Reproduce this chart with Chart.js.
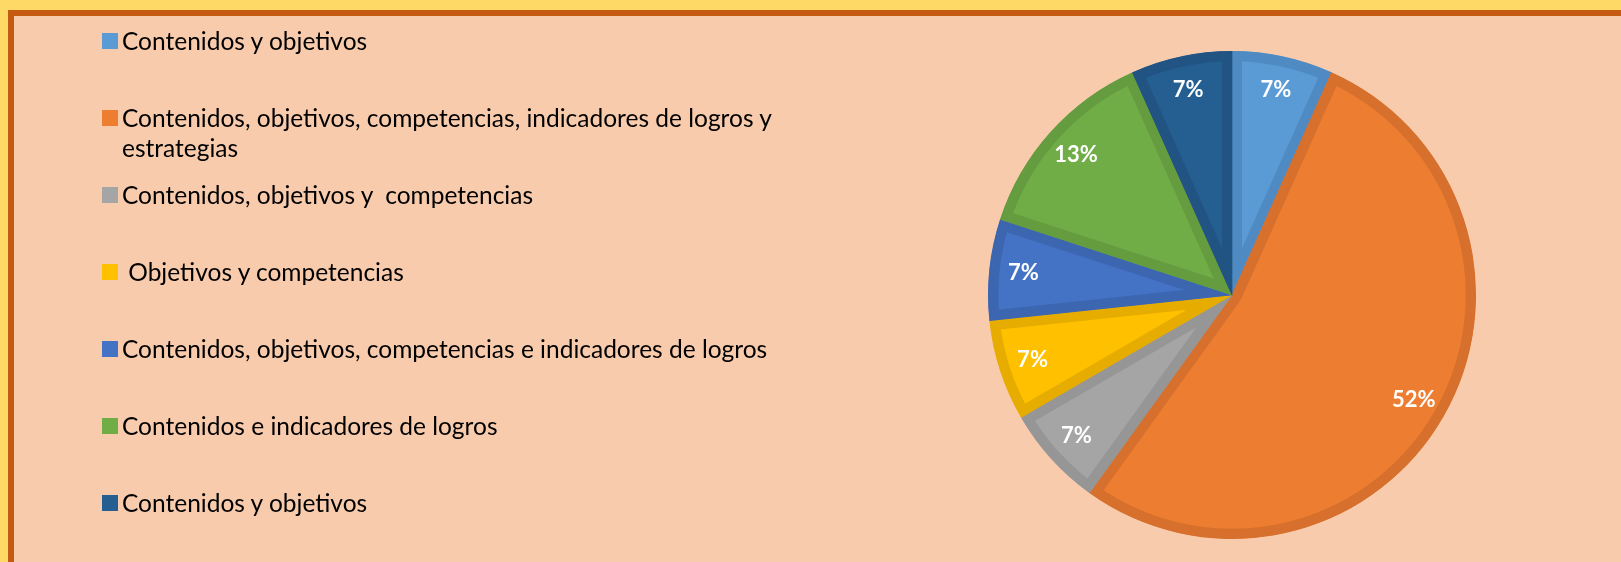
<!DOCTYPE html>
<html>
<head>
<meta charset="utf-8">
<script src="https://cdn.jsdelivr.net/npm/chart.js@4.4.0/dist/chart.umd.min.js"></script>
<style>
  html, body { margin: 0; padding: 0; }
  body { width: 1621px; height: 562px; background: #FFD966; overflow: hidden; position: relative; font-family: Lato, sans-serif; }
  #frame { position: absolute; left: 8px; top: 10px; right: 0; bottom: 0; background: #F8CBAD;
           border-left: 6px solid #C55A11; border-top: 6px solid #C55A11; }
  #pie-chart { position: absolute; left: 0; top: 0; }
  .item { position: absolute; left: 88px; display: flex; align-items: flex-start; font-size: 24.5px; color: #000; line-height: 30px; white-space: pre; }
  .box { width: 16px; height: 16px; margin-top: 7px; margin-right: 4px; flex: none; }
</style>
</head>
<body>
<div id="frame">
  <canvas id="pie-chart" width="1607" height="546"></canvas>
  <div id="legend"></div>
</div>
<script>
// categories (multi-line labels are arrays)
const categories = [
    "Contenidos y objetivos",
    ["Contenidos, objetivos, competencias, indicadores de logros y", "estrategias"],
    "Contenidos, objetivos y  competencias",
    " Objetivos y competencias",
    "Contenidos, objetivos, competencias e indicadores de logros",
    "Contenidos e indicadores de logros",
    "Contenidos y objetivos"
];
// share of each slice
const shares = [6.7, 53.3, 6.7, 6.7, 6.7, 13.3, 6.7];
// labels printed on the slices
const percentLabels = ["7%", "52%", "7%", "7%", "7%", "13%", "7%"];

const fillColors = ['#5B9BD5', '#ED7D31', '#A5A5A5', '#FFC000', '#4472C4', '#70AD47', '#255E91'];
const edgeColors = ['#4F8BC2', '#D6702C', '#969696', '#E6AD00', '#3D66B1', '#659C40', '#215483'];

const pie_chart = document.getElementById("pie-chart");

// html legend
const legend = document.getElementById("legend");
for (let i = 0; i < categories.length; i++) {
    let item = document.createElement("div");
    item.className = "item";
    item.style.top = (10 + i * 77) + "px";
    let box = document.createElement("div");
    box.className = "box";
    box.style.background = fillColors[i];
    let txt = document.createElement("div");
    let lab = categories[i];
    txt.textContent = Array.isArray(lab) ? lab.join("\n") : lab;
    item.appendChild(box);
    item.appendChild(txt);
    legend.appendChild(item);
}

const sliceLabels = {
    id: 'sliceLabels',
    afterDatasetsDraw(chart) {
        let ctx = chart.ctx;
        let arcs = chart.getDatasetMeta(0).data;
        ctx.save();
        ctx.font = 'bold 22px Lato';
        ctx.fillStyle = '#ffffff';
        ctx.textAlign = 'center';
        ctx.textBaseline = 'middle';
        for (let i = 0; i < arcs.length; i++) {
            let p = arcs[i].getProps(['x', 'y', 'startAngle', 'endAngle', 'outerRadius'], true);
            let mid = (p.startAngle + p.endAngle) / 2;
            let r = p.outerRadius * 0.86;
            ctx.fillText(percentLabels[i], p.x + Math.cos(mid) * r, p.y + Math.sin(mid) * r);
        }
        ctx.restore();
    }
};

let myChart = new Chart(pie_chart, {
    type: 'pie',
    data: {
        labels: categories,
        datasets: [{
            data: shares,
            backgroundColor: fillColors,
            borderColor: edgeColors,
            borderWidth: 10,
            borderAlign: 'inner',
            borderJoinStyle: 'miter'
        }]
    },
    options: {
        responsive: false,
        animation: false,
        layout: { padding: { left: 974, right: 145, top: 35, bottom: 23 } },
        plugins: {
            legend: { display: false },
            tooltip: { enabled: false }
        }
    },
    plugins: [sliceLabels]
});
</script>
</body>
</html>
